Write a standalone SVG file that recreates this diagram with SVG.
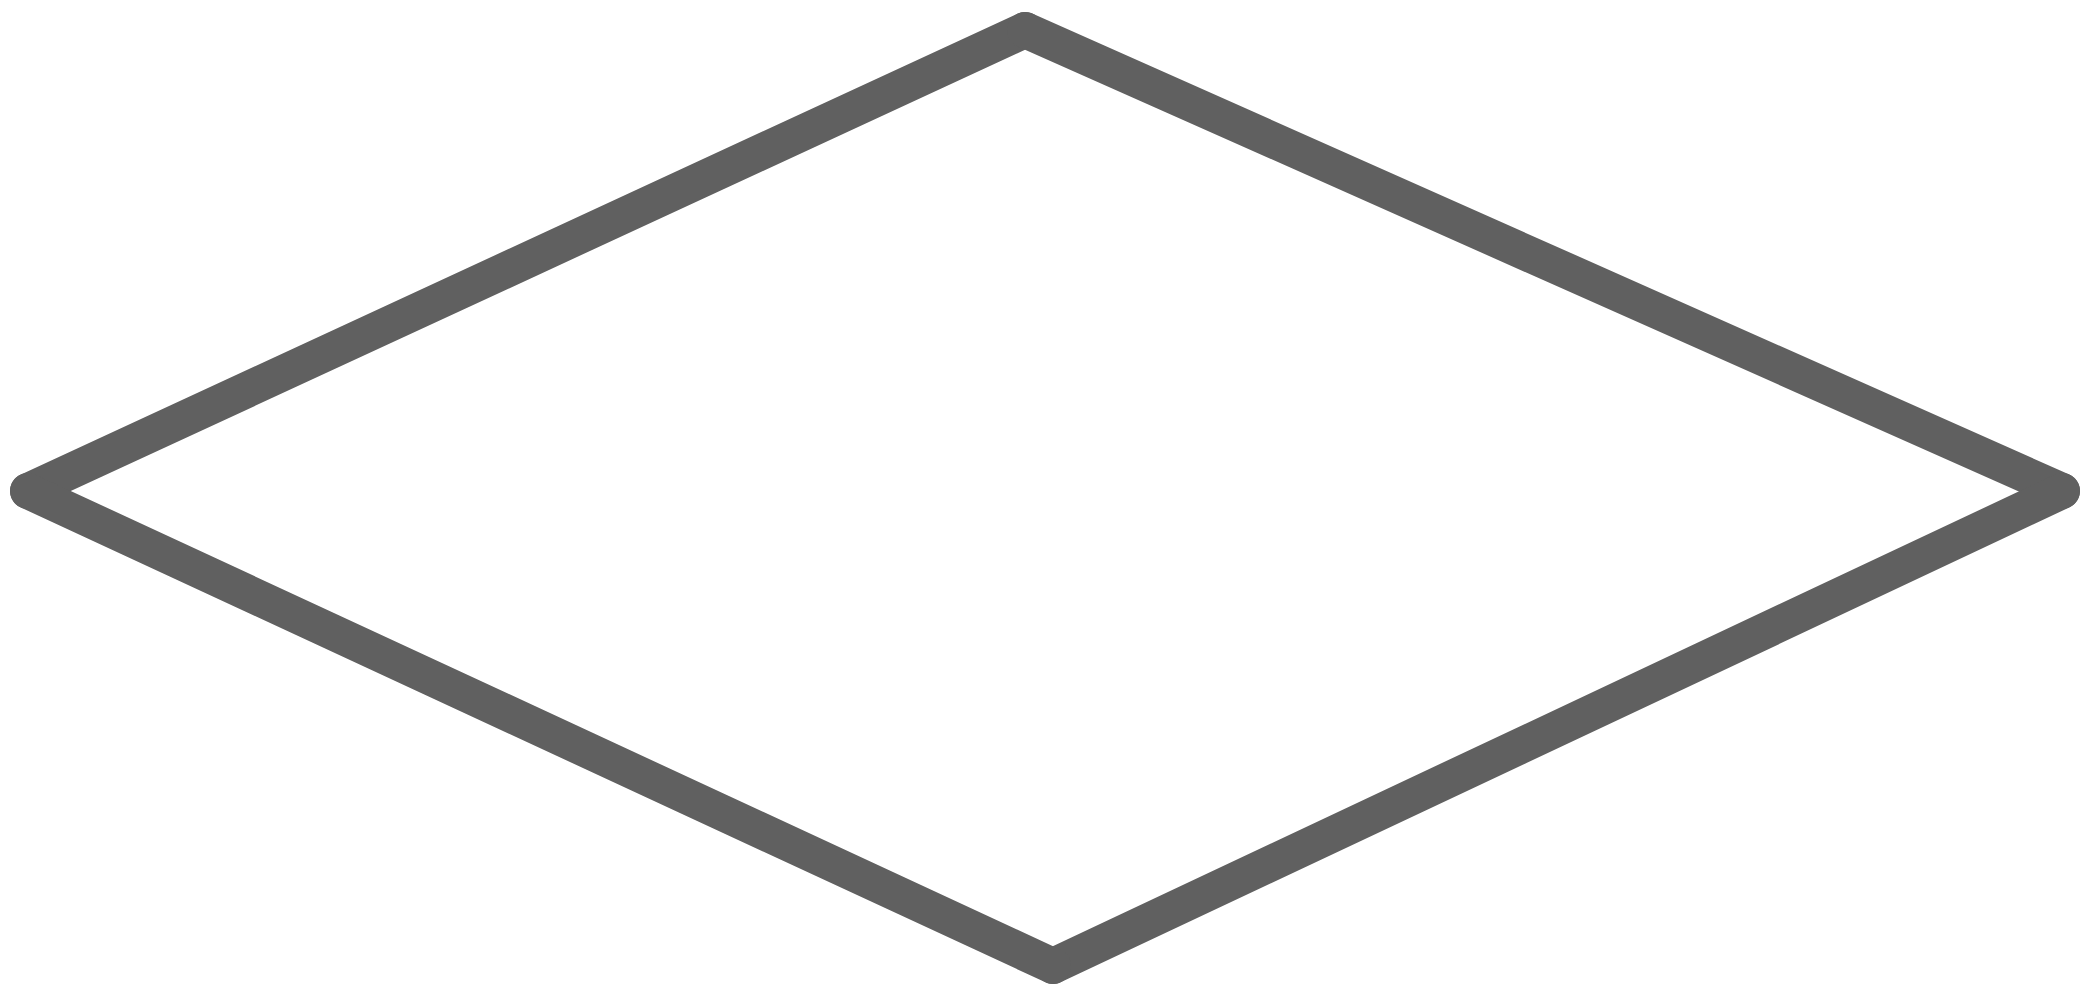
<svg xmlns="http://www.w3.org/2000/svg" width="2095" height="1002" viewBox="0 0 2095 1002">
<style>
.edge{stroke:#606060;stroke-width:36;stroke-linecap:round;fill:none}
</style>
<rect width="2095" height="1002" fill="#ffffff"/>
<g id="connectors">
<line class="edge" x1="28" y1="491" x2="1025" y2="30"/>
<line class="edge" x1="1025" y1="30" x2="2062" y2="491"/>
<line class="edge" x1="2062" y1="491" x2="1053" y2="966"/>
<line class="edge" x1="1053" y1="966" x2="28" y2="491"/>
</g>
</svg>
